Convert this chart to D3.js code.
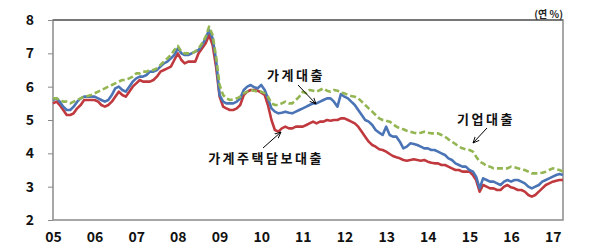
<!DOCTYPE html>
<html>
<head>
<meta charset="utf-8">
<script src="https://cdn.jsdelivr.net/npm/d3@7"></script>
<style>
    body { margin: 0; background: #ffffff; }
    svg text { font-family: "Noto Sans CJK KR", "Noto Sans", sans-serif; }
</style>
</head>
<body>
<div id="chart"></div>
<script>
// Monthly series, Jan 2005 to Apr 2017 (연 %)
const startMonth = new Date(2005, 0, 1);

const mortgageLoan = [
    5.5, 5.55, 5.45, 5.3, 5.15, 5.15, 5.2, 5.35, 5.45, 5.6, 5.6, 5.6,      // 05
    5.6, 5.55, 5.45, 5.4, 5.45, 5.55, 5.7, 5.85, 5.75, 5.7, 5.85, 6.0,     // 06
    6.1, 6.2, 6.15, 6.15, 6.15, 6.2, 6.3, 6.45, 6.5, 6.55, 6.6, 6.8,       // 07
    7.0, 6.8, 6.7, 6.75, 6.75, 6.75, 7.0, 7.15, 7.3, 7.55, 7.25, 6.6,      // 08
    5.7, 5.4, 5.35, 5.3, 5.3, 5.35, 5.45, 5.75, 5.85, 5.9, 5.9, 5.88,      // 09
    5.82, 5.75, 5.45, 5.0, 4.7, 4.65, 4.75, 4.8, 4.75, 4.75, 4.8, 4.8,     // 10
    4.8, 4.85, 4.9, 4.95, 4.9, 4.95, 4.95, 5.0, 4.98, 5.0, 5.0, 5.05,      // 11
    5.05, 5.0, 4.95, 4.9, 4.8, 4.65, 4.5, 4.35, 4.25, 4.2, 4.12, 4.1,      // 12
    4.05, 3.98, 3.92, 3.88, 3.85, 3.8, 3.78, 3.8, 3.82, 3.8, 3.78, 3.8,    // 13
    3.75, 3.72, 3.7, 3.7, 3.65, 3.65, 3.6, 3.55, 3.5, 3.5, 3.45, 3.45,     // 14
    3.45, 3.35, 3.2, 2.85, 3.05, 3.0, 2.95, 2.95, 2.9, 2.9, 3.0, 3.05,     // 15
    2.98, 2.95, 2.9, 2.9, 2.85, 2.75, 2.7, 2.75, 2.85, 2.95, 3.05, 3.1,    // 16
    3.15, 3.18, 3.2, 3.2                                                   // 17
];

const householdLoan = [
    5.6, 5.65, 5.55, 5.4, 5.3, 5.3, 5.4, 5.55, 5.65, 5.7, 5.7, 5.7,
    5.7, 5.65, 5.6, 5.55, 5.6, 5.75, 5.95, 6.0, 5.9, 5.85, 6.0, 6.15,
    6.25, 6.3, 6.3, 6.35, 6.45, 6.45, 6.5, 6.6, 6.7, 6.75, 6.85, 6.95,
    7.15, 7.0, 6.95, 6.95, 7.0, 7.05, 7.1, 7.25, 7.45, 7.7, 7.45, 6.8,
    5.75, 5.55, 5.5, 5.5, 5.5, 5.55, 5.65, 5.9, 6.0, 6.05, 5.98, 5.95,
    6.05, 5.9, 5.65, 5.35, 5.25, 5.2, 5.22, 5.25, 5.22, 5.2, 5.25, 5.3,
    5.35, 5.4, 5.45, 5.5, 5.5, 5.55, 5.6, 5.65, 5.65, 5.55, 5.4, 5.78,
    5.7, 5.65, 5.55, 5.45, 5.3, 5.15, 5.0, 4.95, 4.85, 4.7, 4.62, 4.55,
    4.8, 4.55, 4.5, 4.5, 4.35, 4.15, 4.2, 4.3, 4.28, 4.25, 4.2, 4.15,
    4.15, 4.1, 4.1, 4.05, 4.0, 3.95, 3.85, 3.8, 3.7, 3.65, 3.6, 3.6,
    3.5, 3.45, 3.3, 2.95, 3.25, 3.2, 3.15, 3.15, 3.1, 3.05, 3.15, 3.2,
    3.15, 3.2, 3.2, 3.15, 3.1, 3.0, 2.95, 3.0, 3.05, 3.15, 3.2, 3.25,
    3.3, 3.35, 3.38, 3.35
];

const corporateLoan = [
    5.65, 5.65, 5.6, 5.55, 5.55, 5.5, 5.55, 5.6, 5.65, 5.7, 5.72, 5.75,
    5.8, 5.85, 5.9, 5.95, 6.0, 6.05, 6.1, 6.15, 6.2, 6.2, 6.25, 6.3,
    6.4, 6.4, 6.45, 6.45, 6.5, 6.5, 6.55, 6.65, 6.75, 6.85, 6.95, 7.1,
    7.22, 7.05, 7.0, 7.0, 7.0, 7.05, 7.15, 7.3, 7.5, 7.8, 7.55, 6.9,
    6.05, 5.75, 5.65, 5.6, 5.62, 5.65, 5.7, 5.8, 5.85, 5.9, 5.88, 5.85,
    5.85, 5.8, 5.7, 5.5, 5.45, 5.45, 5.5, 5.55, 5.5, 5.5, 5.6, 5.7,
    5.85, 5.8, 5.9, 5.88, 5.85, 5.9, 5.95, 5.88, 5.85, 5.9, 5.88, 5.82,
    5.8, 5.75, 5.72, 5.7, 5.65, 5.55, 5.45, 5.35, 5.25, 5.15, 5.05, 5.0,
    4.98, 4.95, 4.88, 4.8, 4.75, 4.72, 4.68, 4.65, 4.62, 4.6, 4.62, 4.65,
    4.62, 4.6, 4.6, 4.6, 4.55, 4.5, 4.42, 4.35, 4.28, 4.2, 4.15, 4.12,
    4.1, 4.05, 3.9, 3.75, 3.7, 3.62, 3.6, 3.55, 3.55, 3.55, 3.55, 3.55,
    3.6, 3.58, 3.55, 3.52, 3.5, 3.45, 3.4, 3.4, 3.4, 3.42, 3.45, 3.5,
    3.55, 3.52, 3.5, 3.45
];

const yTicks = [2, 3, 4, 5, 6, 7, 8];
const xYears = [2005, 2006, 2007, 2008, 2009, 2010, 2011, 2012, 2013, 2014, 2015, 2016, 2017];

const width = 598, height = 250;
const margin = {top: 20, right: 35, bottom: 30, left: 53};
const innerW = width - margin.left - margin.right;
const innerH = height - margin.top - margin.bottom;

const svg = d3.select("#chart")
    .append("svg")
    .attr("width", width)
    .attr("height", height);

const chart = svg.append("g")
    .attr("transform", `translate(${margin.left},${margin.top})`);

// Scales
const xScale = d3.scaleTime()
    .domain([startMonth, d3.timeMonth.offset(startMonth, mortgageLoan.length - 1)])
    .range([0, innerW]);

const yScale = d3.scaleLinear()
    .domain([2, 8])
    .range([innerH, 0]);

const toPoints = arr => arr.map((v, i) => ({date: d3.timeMonth.offset(startMonth, i), value: v}));

// Axes
const yAxis = d3.axisLeft(yScale)
    .tickValues(yTicks)
    .tickFormat(d3.format("d"))
    .tickSize(5)
    .tickPadding(14)
    .tickSizeOuter(0);

chart.append("g")
    .attr("class", "axis y-axis")
    .call(yAxis)
    .call(g => g.select(".domain").remove())
    .call(g => g.selectAll(".tick line").attr("stroke", "#888"))
    .call(g => g.selectAll(".tick text")
        .attr("font-size", "14px")
        .attr("font-weight", "bold")
        .attr("fill", "#111"));

const xAxis = d3.axisBottom(xScale)
    .tickValues(xYears.map(y => new Date(y, 0, 1)))
    .tickFormat(d3.timeFormat("%y"))
    .tickSize(0)
    .tickPadding(12);

chart.append("g")
    .attr("class", "axis x-axis")
    .attr("transform", `translate(0,${innerH})`)
    .call(xAxis)
    .call(g => g.select(".domain").remove())
    .call(g => g.selectAll(".tick text")
        .attr("font-size", "14px")
        .attr("font-weight", "bold")
        .attr("fill", "#111"));

// Frame
chart.append("rect")
    .attr("x", 0)
    .attr("y", 0)
    .attr("width", innerW)
    .attr("height", innerH)
    .attr("fill", "none")
    .attr("stroke", "#8a8a8a")
    .attr("stroke-width", 1.5);
chart.append("line")
    .attr("x1", 0).attr("x2", innerW)
    .attr("y1", 0).attr("y2", 0)
    .attr("stroke", "#777")
    .attr("stroke-width", 2);

// Lines
const line = d3.line()
    .x(d => xScale(d.date))
    .y(d => yScale(d.value));

const series = [
    {name: "mortgage", data: mortgageLoan, color: "#c0393e", dash: null},
    {name: "household", data: householdLoan, color: "#4a74b5", dash: null},
    {name: "corporate", data: corporateLoan, color: "#93b552", dash: "6,3"}
];

chart.selectAll(".series")
    .data(series)
    .join("path")
    .attr("class", "series")
    .attr("d", d => line(toPoints(d.data)))
    .attr("fill", "none")
    .attr("stroke", d => d.color)
    .attr("stroke-width", 2.6)
    .attr("stroke-linejoin", "round")
    .attr("stroke-dasharray", d => d.dash);

// Arrow marker
svg.append("defs").append("marker")
    .attr("id", "arrow")
    .attr("viewBox", "0 0 10 10")
    .attr("refX", 9)
    .attr("refY", 5)
    .attr("markerWidth", 7)
    .attr("markerHeight", 7)
    .attr("orient", "auto")
    .append("path")
    .attr("d", "M0,1 L9,5 L0,9")
    .attr("fill", "none")
    .attr("stroke", "#000")
    .attr("stroke-width", 1.3);

// Annotations (page coordinates)
const labels = [
    {text: "가계대출", x: 296, y: 80, from: [298, 85], to: [316, 104]},
    {text: "가계주택담보대출", x: 266, y: 163, from: [263, 148], to: [281, 132]},
    {text: "기업대출", x: 486, y: 124, from: [487, 128], to: [473, 143]}
];

svg.selectAll(".note")
    .data(labels)
    .join("text")
    .attr("class", "note")
    .attr("x", d => d.x)
    .attr("y", d => d.y)
    .attr("text-anchor", "middle")
    .attr("font-size", "13px")
    .attr("font-weight", "bold")
    .attr("letter-spacing", "2.5px")
    .attr("fill", "#111")
    .text(d => d.text);

svg.selectAll(".note-arrow")
    .data(labels)
    .join("line")
    .attr("class", "note-arrow")
    .attr("x1", d => d.from[0])
    .attr("y1", d => d.from[1])
    .attr("x2", d => d.to[0])
    .attr("y2", d => d.to[1])
    .attr("stroke", "#000")
    .attr("stroke-width", 1)
    .attr("marker-end", "url(#arrow)");

// Unit
svg.append("text")
    .attr("x", width - margin.right)
    .attr("y", 18)
    .attr("text-anchor", "end")
    .attr("font-size", "10px")
    .attr("font-weight", "bold")
    .attr("fill", "#222")
    .text("(연 %)");
</script>
</body>
</html>
